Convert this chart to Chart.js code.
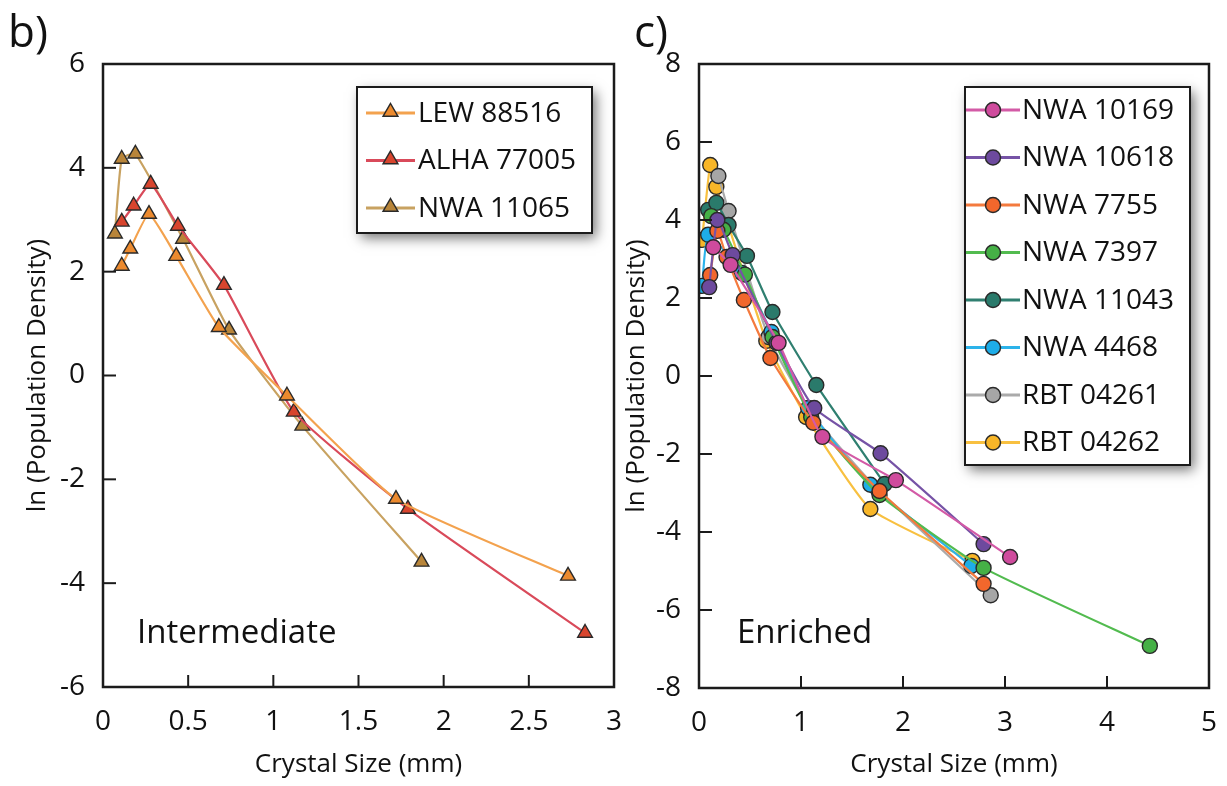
<!DOCTYPE html>
<html>
<head>
<meta charset="utf-8">
<script src="https://cdn.jsdelivr.net/npm/chart.js@4"></script>
<style>
  body { margin: 0; background: #fff; width: 1227px; height: 786px; position: relative; overflow: hidden; font-family: "Open Sans", sans-serif; }
  canvas { position: absolute; top: 0; }
  .lbl { position: absolute; color: #111; white-space: nowrap; line-height: 1; }
</style>
</head>
<body>
<canvas id="chartB" width="640" height="786" style="left:0"></canvas>
<canvas id="chartC" width="607" height="786" style="left:620px"></canvas>
<div class="lbl" style="left:8px;top:8px;font-size:44px">b)</div>
<div class="lbl" style="left:634px;top:8px;font-size:44px">c)</div>
<div class="lbl" style="left:137px;top:614px;font-size:33px">Intermediate</div>
<div class="lbl" style="left:737px;top:614px;font-size:33px">Enriched</div>
<script>
// panel b) intermediate, [crystal size mm, ln population density]
const LEW_88516 = [[0.11, 2.11], [0.16, 2.44], [0.27, 3.11], [0.43, 2.30], [0.68, 0.93], [1.08, -0.39], [1.72, -2.38], [2.73, -3.86]];
const ALHA_77005 = [[0.11, 2.96], [0.18, 3.27], [0.28, 3.69], [0.44, 2.88], [0.71, 1.74], [1.12, -0.70], [1.79, -2.57], [2.83, -4.96]];
const NWA_11065 = [[0.07, 2.73], [0.11, 4.17], [0.19, 4.27], [0.47, 2.63], [0.74, 0.88], [1.17, -0.97], [1.87, -3.59]];

// panel c) enriched
const NWA_10169 = [[0.14, 3.3], [0.31, 2.85], [0.78, 0.85], [1.21, -1.56], [1.93, -2.67], [3.05, -4.64]];
const NWA_10618 = [[0.1, 2.28], [0.18, 4.0], [0.33, 3.1], [0.76, 0.85], [1.13, -0.82], [1.78, -1.98], [2.79, -4.31]];
const NWA_7755 = [[0.11, 2.59], [0.18, 3.72], [0.27, 3.05], [0.44, 1.95], [0.70, 0.46], [1.12, -1.2], [1.77, -2.95], [2.79, -5.33]];
const NWA_7397 = [[0.12, 4.1], [0.24, 3.75], [0.45, 2.6], [0.72, 1.0], [1.1, -1.05], [1.77, -3.05], [2.79, -4.92], [4.42, -6.92]];
const NWA_11043 = [[0.09, 4.26], [0.17, 4.44], [0.29, 3.87], [0.47, 3.08], [0.72, 1.64], [1.15, -0.23], [1.82, -2.77]];
const NWA_4468 = [[0.03, 2.31], [0.09, 3.62], [0.42, 2.64], [0.71, 1.13], [1.07, -0.82], [1.68, -2.79], [2.67, -4.87]];
const RBT_04261 = [[0.19, 5.13], [0.29, 4.23], [0.68, 1.0], [1.1, -0.95], [1.75, -2.9], [2.86, -5.62]];
const RBT_04262 = [[0.03, 3.49], [0.11, 5.41], [0.17, 4.85], [0.66, 0.9], [1.05, -1.05], [1.68, -3.41], [2.68, -4.74]];

const namesB = ["LEW 88516", "ALHA 77005", "NWA 11065"];
const namesC = ["NWA 10169", "NWA 10618", "NWA 7755", "NWA 7397", "NWA 11043", "NWA 4468", "RBT 04261", "RBT 04262"];

const xRangeB = [0, 3], xStepB = 0.5, yRangeB = [-6, 6], yStepB = 2;
const xRangeC = [0, 5], xStepC = 1, yRangeC = [-8, 8], yStepC = 2;

const FONT = "'Open Sans', sans-serif";
const toXY = arr => arr.map(p => ({ x: p[0], y: p[1] }));
const fmt = v => String(Math.round(v * 100) / 100);

// inward ticks + full frame
const framePlugin = {
  id: "frame",
  afterDraw(chart) {
    const { ctx, chartArea: a } = chart;
    ctx.save();
    ctx.strokeStyle = "#1b1b1b";
    ctx.lineWidth = 2.5;
    ctx.strokeRect(a.left, a.top, a.right - a.left, a.bottom - a.top);
    ctx.lineWidth = 2;
    chart.scales.x.ticks.forEach(t => {
      const px = chart.scales.x.getPixelForValue(t.value);
      ctx.beginPath(); ctx.moveTo(px, a.bottom); ctx.lineTo(px, a.bottom - 12); ctx.stroke();
    });
    chart.scales.y.ticks.forEach(t => {
      const py = chart.scales.y.getPixelForValue(t.value);
      ctx.beginPath(); ctx.moveTo(a.left, py); ctx.lineTo(a.left + 13, py); ctx.stroke();
    });
    ctx.restore();
  }
};

// boxed legend with shadow, inside the plot
const boxLegend = {
  id: "boxLegend",
  afterDraw(chart, args, opts) {
    const { ctx } = chart;
    const b = opts.box;
    ctx.save();
    ctx.shadowColor = "rgba(0,0,0,0.55)";
    ctx.shadowBlur = 12;
    ctx.shadowOffsetX = 4;
    ctx.shadowOffsetY = 5;
    ctx.fillStyle = "#fff";
    ctx.fillRect(b.x, b.y, b.w, b.h);
    ctx.restore();
    ctx.save();
    ctx.strokeStyle = "#1b1b1b";
    ctx.lineWidth = 2;
    ctx.strokeRect(b.x, b.y, b.w, b.h);
    ctx.font = "28px " + FONT;
    ctx.textBaseline = "middle";
    chart.data.datasets.forEach((ds, i) => {
      const y = opts.firstRow + i * opts.rowGap;
      ctx.strokeStyle = ds.borderColor;
      ctx.lineWidth = 3;
      ctx.beginPath(); ctx.moveTo(opts.lineX0, y); ctx.lineTo(opts.lineX1, y); ctx.stroke();
      const m = (opts.lineX0 + opts.lineX1) / 2;
      ctx.fillStyle = ds.pointBackgroundColor;
      ctx.strokeStyle = "#2a2a2a";
      ctx.lineWidth = 1.5;
      ctx.beginPath();
      if (ds.pointStyle === "triangle") {
        const r = ds.pointRadius;
        ctx.moveTo(m, y - 1 - r);
        ctx.lineTo(m + r * 0.866, y - 1 + r / 2);
        ctx.lineTo(m - r * 0.866, y - 1 + r / 2);
        ctx.closePath();
      } else {
        ctx.arc(m, y, ds.pointRadius, 0, Math.PI * 2);
      }
      ctx.fill(); ctx.stroke();
      ctx.fillStyle = "#111";
      ctx.fillText(ds.label, opts.textX, y + 1);
    });
    ctx.restore();
  }
};

function series(label, pts, line, fill, style, r) {
  return {
    label, data: toXY(pts),
    borderColor: line, borderWidth: 2.2,
    pointStyle: style, pointRadius: r, pointHoverRadius: r,
    pointBackgroundColor: fill, pointBorderColor: "#2a2a2a", pointBorderWidth: 1.4,
    tension: 0.15, fill: false
  };
}

function axes(xr, xs, yr, ys, yWidth, xHeight, yTitlePad) {
  const tickFont = { family: FONT, size: 28 };
  const titleFont = { family: FONT, size: 26, lineHeight: 1.2 };
  return {
    x: {
      type: "linear", min: xr[0], max: xr[1],
      grid: { display: false }, border: { display: false },
      ticks: { stepSize: xs, autoSkip: false, maxRotation: 0, color: "#111", font: tickFont, padding: 10, callback: fmt },
      title: { display: true, text: "Crystal Size (mm)", color: "#111", font: titleFont, padding: { bottom: 6 } },
      afterFit: s => { s.height = xHeight; }
    },
    y: {
      type: "linear", min: yr[0], max: yr[1],
      grid: { display: false }, border: { display: false },
      ticks: { stepSize: ys, autoSkip: false, color: "#111", font: tickFont, padding: 10, callback: fmt },
      title: { display: true, text: "ln (Population Density)", color: "#111", font: titleFont, padding: { top: yTitlePad } },
      afterFit: s => { s.width = yWidth; }
    }
  };
}

const common = {
  responsive: false, animation: false,
  plugins: { legend: { display: false }, tooltip: { enabled: false } }
};

const tri = 8.5;
new Chart(document.getElementById("chartB"), {
  type: "line",
  data: {
    datasets: [
      series(namesB[0], LEW_88516, "#f3a24e", "#ec8a2e", "triangle", tri),
      series(namesB[1], ALHA_77005, "#d94a5a", "#d8452e", "triangle", tri),
      series(namesB[2], NWA_11065, "#c8a261", "#b8853a", "triangle", tri)
    ]
  },
  options: {
    ...common,
    layout: { padding: { left: 0, right: 26, top: 64, bottom: 0 } },
    scales: axes(xRangeB, xStepB, yRangeB, yStepB, 103, 99, 22),
    plugins: {
      ...common.plugins,
      boxLegend: { box: { x: 357, y: 87, w: 235, h: 146 }, firstRow: 113, rowGap: 47.5, lineX0: 366, lineX1: 415, textX: 418 }
    }
  },
  plugins: [framePlugin, boxLegend]
});

const dot = 7.5;
new Chart(document.getElementById("chartC"), {
  type: "line",
  data: {
    datasets: [
      series(namesC[0], NWA_10169, "#d35aa6", "#cf4b9d", "circle", dot),
      series(namesC[1], NWA_10618, "#7653a6", "#6d4a9e", "circle", dot),
      series(namesC[2], NWA_7755, "#f47a3e", "#f2672c", "circle", dot),
      series(namesC[3], NWA_7397, "#52bb4f", "#45b046", "circle", dot),
      series(namesC[4], NWA_11043, "#2f7f70", "#2a7a6b", "circle", dot),
      series(namesC[5], NWA_4468, "#2cb3ea", "#1eade8", "circle", dot),
      series(namesC[6], RBT_04261, "#aaaaaa", "#a6a6a6", "circle", dot),
      series(namesC[7], RBT_04262, "#f8c040", "#f8b628", "circle", dot)
    ]
  },
  options: {
    ...common,
    layout: { padding: { left: 0, right: 15, top: 64, bottom: 0 } },
    scales: axes(xRangeC, xStepC, yRangeC, yStepC, 79, 98, 1),
    plugins: {
      ...common.plugins,
      boxLegend: { box: { x: 345, y: 87, w: 225, h: 378 }, firstRow: 110, rowGap: 47.5, lineX0: 346, lineX1: 400, textX: 402 }
    }
  },
  plugins: [framePlugin, boxLegend]
});
</script>
</body>
</html>
